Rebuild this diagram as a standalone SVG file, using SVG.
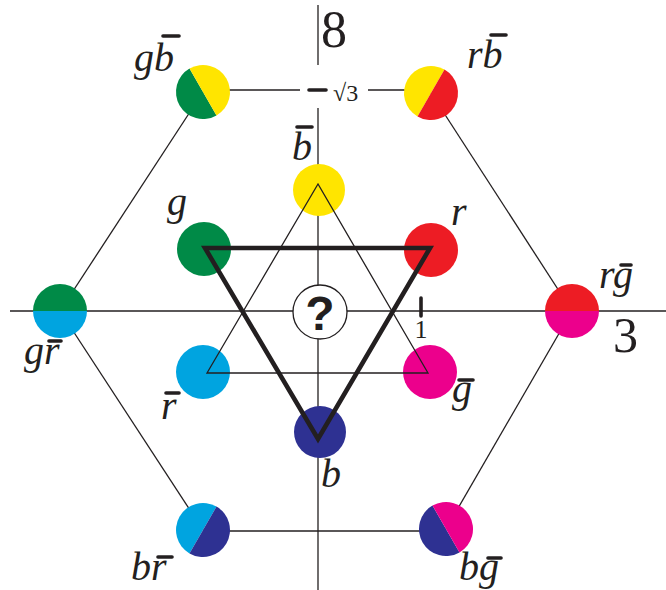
<svg xmlns="http://www.w3.org/2000/svg" width="666" height="590" viewBox="0 0 666 590">
<style>
.ln{stroke:#231F20;stroke-width:1.3;fill:none}
.thick{stroke:#231F20;stroke-width:4.6;fill:none;stroke-linejoin:miter}
.bar{stroke:#231F20;stroke-width:3.6;stroke-linecap:round}
.lab{font-style:italic;font-size:40px;fill:#231F20}
.num{fill:#231F20}
.G{fill:#008A47}.Y{fill:#FFE500}.R{fill:#ED1C24}.C{fill:#00A4E0}.M{fill:#EC008C}.B{fill:#2E3192}
</style>
<rect width="666" height="590" fill="#fff"/>
<g id="connectors">
<line class="ln" x1="318" y1="5" x2="318" y2="65"/>
<line class="ln" x1="318" y1="108" x2="318" y2="590"/>
<line class="ln" x1="10" y1="311" x2="666" y2="311"/>
<line class="ln" x1="203" y1="90" x2="300" y2="90"/>
<line class="ln" x1="368" y1="90" x2="431" y2="90"/>
<line class="ln" x1="203" y1="92" x2="60" y2="311"/>
<line class="ln" x1="60" y1="311" x2="203" y2="530"/>
<line class="ln" x1="203" y1="531" x2="446" y2="531"/>
<line class="ln" x1="446" y1="529" x2="572" y2="311"/>
<line class="ln" x1="572" y1="311" x2="431" y2="93"/>
</g>
<g id="ticks" font-family="Liberation Serif">
<line class="bar" x1="309" y1="90" x2="326" y2="90" stroke-width="4.5"/>
<text class="num" x="333" y="101" font-size="24">√3</text>
<line class="bar" x1="421" y1="298" x2="421" y2="316" stroke-width="4.5"/>
<text class="num" x="421" y="338" font-size="26" text-anchor="middle">1</text>
<text class="num" x="321" y="47" font-size="52">8</text>
<text class="num" x="613" y="352" font-size="50">3</text>
</g>
<g id="nodes" font-family="Liberation Serif">
<g id="n-gbbar">
<path class="G" d="M216.5 115.4 A27 27 0 0 1 189.5 68.6 Z"/>
<path class="Y" d="M189.5 68.6 A27 27 0 0 1 216.5 115.4 Z"/>
<text class="lab" x="134" y="71">gb</text>
<line class="bar" x1="163" y1="36" x2="179" y2="36"/>
</g>
<g id="n-rbbar">
<path class="Y" d="M417.5 116.4 A27 27 0 0 1 444.5 69.6 Z"/>
<path class="R" d="M444.5 69.6 A27 27 0 0 1 417.5 116.4 Z"/>
<text class="lab" x="467" y="68">rb</text>
<line class="bar" x1="491" y1="35" x2="506" y2="35"/>
</g>
<g id="n-grbar">
<path class="G" d="M33 311 A27 27 0 0 1 87 311 Z"/>
<path class="C" d="M87 311 A27 27 0 0 1 33 311 Z"/>
<text class="lab" x="24" y="364">gr</text>
<line class="bar" x1="49" y1="341" x2="61" y2="341"/>
</g>
<g id="n-rgbar">
<path class="R" d="M545 311 A27 27 0 0 1 599 311 Z"/>
<path class="M" d="M599 311 A27 27 0 0 1 545 311 Z"/>
<text class="lab" x="599" y="288">rg</text>
<line class="bar" x1="621" y1="265" x2="631" y2="265"/>
</g>
<g id="n-brbar">
<path class="C" d="M189.5 553.4 A27 27 0 0 1 216.5 506.6 Z"/>
<path class="B" d="M216.5 506.6 A27 27 0 0 1 189.5 553.4 Z"/>
<text class="lab" x="131" y="580">br</text>
<line class="bar" x1="158" y1="557" x2="172" y2="557"/>
</g>
<g id="n-bgbar">
<path class="B" d="M459.5 552.4 A27 27 0 0 1 432.5 505.6 Z"/>
<path class="M" d="M432.5 505.6 A27 27 0 0 1 459.5 552.4 Z"/>
<text class="lab" x="459" y="580">bg</text>
<line class="bar" x1="488" y1="558" x2="501" y2="558"/>
</g>
<g id="n-bbar">
<circle class="Y" cx="319" cy="190" r="26"/>
<text class="lab" x="292" y="160">b</text>
<line class="bar" x1="297" y1="127" x2="312" y2="127"/>
</g>
<g id="n-g">
<circle class="G" cx="204" cy="249" r="27"/>
<text class="lab" x="167" y="215">g</text>
</g>
<g id="n-r">
<circle class="R" cx="431" cy="250" r="27"/>
<text class="lab" x="451" y="225">r</text>
</g>
<g id="n-rbar">
<circle class="C" cx="203" cy="372" r="27"/>
<text class="lab" x="161" y="419">r</text>
<line class="bar" x1="166" y1="393" x2="179" y2="393"/>
</g>
<g id="n-gbar">
<circle class="M" cx="430" cy="372" r="27"/>
<text class="lab" x="452" y="402">g</text>
<line class="bar" x1="459" y1="380" x2="473" y2="380"/>
</g>
<g id="n-b">
<circle class="B" cx="320" cy="432" r="26"/>
<text class="lab" x="321" y="487">b</text>
</g>
</g>
<g id="triangles">
<path class="ln" d="M318 184 L207 373 L428 373 Z"/>
<path class="thick" d="M205 248 L430 248 L318 439 Z"/>
</g>
<g id="n-center">
<circle cx="320" cy="312" r="27" fill="#fff" stroke="#231F20" stroke-width="1.3"/>
<text x="320" y="330" font-family="Liberation Sans, sans-serif" font-weight="bold" font-size="48" text-anchor="middle" fill="#231F20">?</text>
</g>
</svg>
